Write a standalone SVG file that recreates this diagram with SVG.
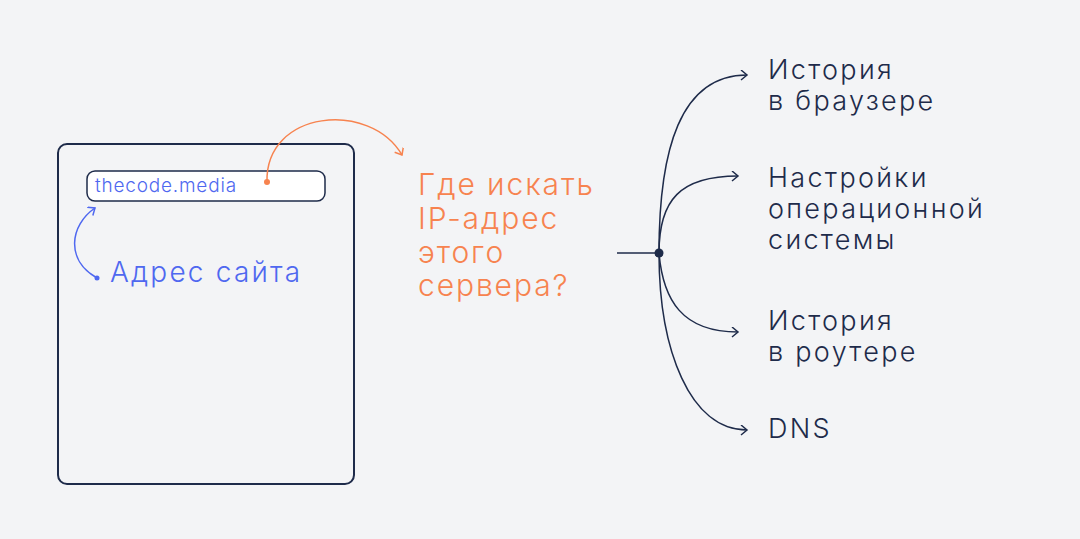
<svg xmlns="http://www.w3.org/2000/svg" width="1080" height="539" viewBox="0 0 1080 539">
<defs>
<style>
.navy{stroke:#1e2b4a;fill:none}
.t{font-family:Inter,"Liberation Sans",sans-serif;font-weight:300}
.lbl{font-family:Inter,"Liberation Sans",sans-serif;font-weight:300;font-size:27px;fill:#1e2b4a;letter-spacing:2.3px}
.q{font-family:Inter,"Liberation Sans",sans-serif;font-weight:300;font-size:30px;fill:#f7834f;letter-spacing:1.9px}
</style>
<marker id="an" markerWidth="12" markerHeight="12" refX="8" refY="5" orient="auto" markerUnits="userSpaceOnUse">
<path d="M2,0 L8,5 L2,10" fill="none" stroke="#1e2b4a" stroke-width="1.5"/>
</marker>
<marker id="ao" markerWidth="12" markerHeight="12" refX="8" refY="5" orient="auto" markerUnits="userSpaceOnUse">
<path d="M2,0 L8,5 L2,10" fill="none" stroke="#f7834f" stroke-width="1.5"/>
</marker>
<marker id="ab" markerWidth="12" markerHeight="12" refX="8" refY="5" orient="auto" markerUnits="userSpaceOnUse">
<path d="M2,0 L8,5 L2,10" fill="none" stroke="#4f68f0" stroke-width="1.5"/>
</marker>
</defs>
<rect width="1080" height="539" fill="#f3f4f6"/>
<g id="browser">
<rect x="58" y="144" width="296" height="340" rx="9" class="navy" stroke-width="2"/>
</g>
<g id="addressbar">
<rect x="87" y="171" width="238" height="30" rx="8" fill="#ffffff" stroke="#1e2b4a" stroke-width="1.5"/>
<text x="95" y="192" class="t" font-size="19" letter-spacing="0.8" fill="#4f68f0">thecode.media</text>
</g>
<g id="site-address">
<text x="110" y="282" class="t" font-size="28" letter-spacing="2.2" fill="#4f68f0">Адрес сайта</text>
</g>
<g id="question">
<text class="q"><tspan x="418" y="195">Где искать</tspan><tspan x="418" y="229">IP-адрес</tspan><tspan x="418" y="263">этого</tspan><tspan x="418" y="296">сервера?</tspan></text>
</g>
<g id="hub">
<circle cx="659" cy="253" r="4.5" fill="#1e2b4a"/>
</g>
<g id="browser-history"><text class="lbl"><tspan x="768" y="79">История</tspan><tspan x="768" y="110">в браузере</tspan></text></g>
<g id="os-settings"><text class="lbl"><tspan x="768" y="187">Настройки</tspan><tspan x="768" y="218">операционной</tspan><tspan x="768" y="249">системы</tspan></text></g>
<g id="router-history"><text class="lbl"><tspan x="768" y="330">История</tspan><tspan x="768" y="361">в роутере</tspan></text></g>
<g id="dns"><text class="lbl"><tspan x="768" y="438">DNS</tspan></text></g>
<g id="connectors">
<path d="M617,253 H659" class="navy" stroke-width="1.5"/>
<path d="M659,253 C659,150 680,75 747,75" class="navy" stroke-width="1.5" marker-end="url(#an)"/>
<path d="M659,253 C659,200 680,176 738,176" class="navy" stroke-width="1.5" marker-end="url(#an)"/>
<path d="M659,253 C663,300 682,332 738,332" class="navy" stroke-width="1.5" marker-end="url(#an)"/>
<path d="M659,253 C659,350 690,430 747,430" class="navy" stroke-width="1.5" marker-end="url(#an)"/>
<path d="M267,182 C265,110 370,100 402,155" fill="none" stroke="#f7834f" stroke-width="1.5" marker-end="url(#ao)"/>
<circle cx="267" cy="182" r="3" fill="#f7834f"/>
<path d="M97,278 C65,260 70,225 95,208" fill="none" stroke="#4f68f0" stroke-width="1.5" marker-end="url(#ab)"/>
<circle cx="97" cy="278" r="2.5" fill="#4f68f0"/>
</g>
</svg>
